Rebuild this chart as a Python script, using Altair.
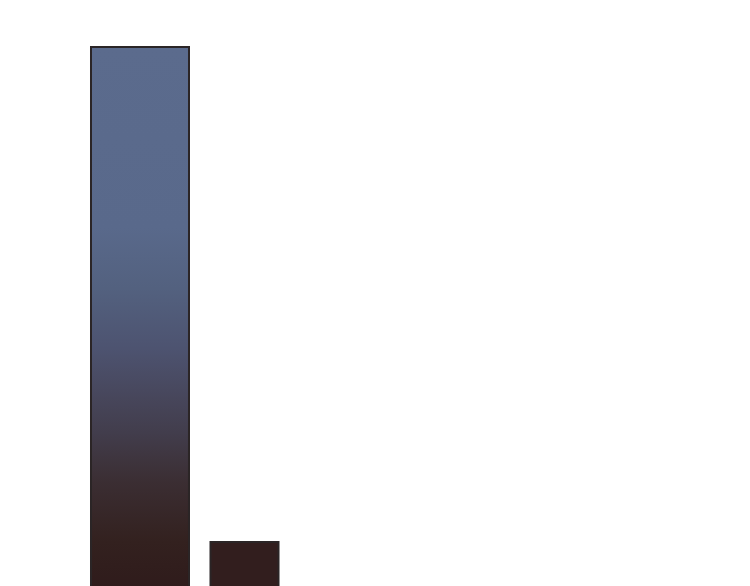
import altair as alt
import pandas as pd

categories = ["A", "B"]
values = [100, 17.9]

df = pd.DataFrame({"category": categories, "value": values})

x_enc = alt.X("category:N", axis=None,
              scale=alt.Scale(domain=categories, paddingInner=0, paddingOuter=0.7153))
y_enc = alt.Y("value:Q", axis=None, scale=alt.Scale(domain=[0, 100], nice=False, zero=True))

grad = alt.Gradient(
    gradient="linear",
    stops=[
        alt.GradientStop(color="#5b6b8d", offset=0),
        alt.GradientStop(color="#59698b", offset=0.30),
        alt.GradientStop(color="#53617f", offset=0.40),
        alt.GradientStop(color="#4d5370", offset=0.50),
        alt.GradientStop(color="#48485e", offset=0.57),
        alt.GradientStop(color="#423d4c", offset=0.64),
        alt.GradientStop(color="#3b2e33", offset=0.72),
        alt.GradientStop(color="#33211f", offset=0.82),
        alt.GradientStop(color="#2f1b1b", offset=0.90),
        alt.GradientStop(color="#2a1818", offset=1),
    ],
    x1=0, x2=0, y1=0, y2=1,
)

tall = alt.Chart(df).transform_filter(alt.datum.category == "A").mark_bar(
    size=98, fill=grad, stroke="#2b2526", strokeWidth=2
).encode(x=x_enc, y=y_enc)

short = alt.Chart(df).transform_filter(alt.datum.category == "B").mark_bar(
    size=68, fill="#321e1e", stroke="#2b2526", strokeWidth=2
).encode(x=x_enc, y=y_enc)

chart = alt.layer(tall, short).properties(
    width=358.5, height=603,
    padding={"left": 5, "top": 38, "right": 5, "bottom": 5},
).configure_view(stroke=None)

chart.save("out.html", embed_options={"renderer": "svg", "actions": False})
